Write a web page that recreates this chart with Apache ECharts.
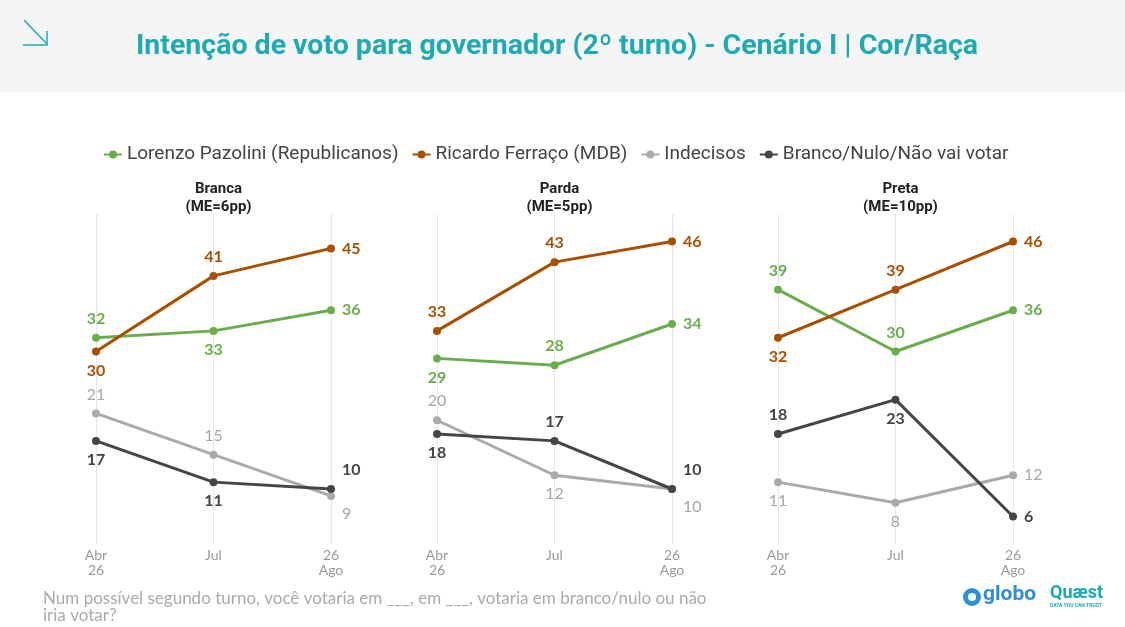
<!DOCTYPE html>
<html>
<head>
<meta charset="utf-8">
<script src="https://cdn.jsdelivr.net/npm/echarts@6/dist/echarts.min.js"></script>
<style>
  html, body { margin: 0; padding: 0; background: #fff; }
  #chart { width: 1125px; height: 627px; }
</style>
</head>
<body>
<div id="chart"></div>
<script>
// dados
const categories = ['Abr\n26', 'Jul', '26\nAgo'];
const panelTitles = ['Branca\n(ME=6pp)', 'Parda\n(ME=5pp)', 'Preta\n(ME=10pp)'];
const seriesNames = ['Lorenzo Pazolini (Republicanos)', 'Ricardo Ferraço (MDB)', 'Indecisos', 'Branco/Nulo/Não vai votar'];
const pazolini = [[32, 33, 36], [29, 28, 34], [39, 30, 36]];
const ferraco = [[30, 41, 45], [33, 43, 46], [32, 39, 46]];
const indecisos = [[21, 15, 9], [20, 12, 10], [11, 8, 12]];
const brancoNulo = [[17, 11, 10], [18, 17, 10], [18, 23, 6]];

const allValues = [pazolini, ferraco, indecisos, brancoNulo];
const colors = ['#6aad4e', '#a84f00', '#aaaaaa', '#454545'];

// onde fica cada rótulo (por painel / ponto)
const labelPos = [
  [['top', 'bottom', 'right'], ['bottom', 'top', 'right'], ['top', 'top', 'right']],
  [['bottom', 'top', 'right'], ['top', 'top', 'right'], ['bottom', 'top', 'right']],
  [['top', 'top', 'rb'], ['top', 'bottom', 'rb'], ['bottom', 'bottom', 'right']],
  [['bottom', 'bottom', 'ra'], ['bottom', 'top', 'ra'], ['top', 'bottom', 'right']]
];

const gridX = [[96, 331], [437, 672], [778, 1013]];
const chart = echarts.init(document.getElementById('chart'));

const grids = [], xAxes = [], yAxes = [], series = [], titles = [];
gridX.forEach(function (g, p) {
  grids.push({ left: g[0], width: g[1] - g[0], top: 214, bottom: 83 });
  xAxes.push({
    type: 'category', gridIndex: p, data: categories, boundaryGap: false,
    axisLine: { show: false }, axisTick: { show: false },
    splitLine: { show: true, lineStyle: { color: '#e6e6e6', width: 1 } },
    axisLabel: { color: '#9a9a9a', fontSize: 14, lineHeight: 15, fontFamily: 'Lato', margin: 4 }
  });
  yAxes.push({ type: 'value', gridIndex: p, min: 2, max: 50, show: false });
  titles.push({
    text: panelTitles[p], left: (g[0] + g[1]) / 2, top: 175, textAlign: 'center',
    textStyle: { fontSize: 15, fontWeight: 'bold', color: '#222', lineHeight: 18, fontFamily: 'Roboto' }
  });
  allValues.forEach(function (vals, s) {
    series.push({
      name: seriesNames[s], type: 'line', xAxisIndex: p, yAxisIndex: p,
      symbol: 'circle', symbolSize: 8,
      lineStyle: { color: colors[s], width: 3 },
      itemStyle: { color: colors[s] },
      z: s === 2 ? 2 : 3,
      data: vals[p].map(function (v, i) {
        const pos = labelPos[s][p][i];
        const label = { position: pos === 'rb' || pos === 'ra' ? 'right' : pos };
        if (pos === 'rb') label.offset = [0, 18];
        if (pos === 'ra') label.offset = [0, -19];
        return { value: v, label: label };
      }),
      label: {
        show: true, distance: 7, fontSize: 16, fontFamily: 'Lato',
        fontWeight: s === 2 ? 'normal' : 'bold', color: s === 2 ? '#a6a6a6' : colors[s]
      }
    });
  });
});

chart.setOption({
  backgroundColor: '#fff',
  animation: false,
  title: [{
    text: 'Intenção de voto para governador (2º turno) - Cenário I | Cor/Raça',
    left: 552, top: 27, textAlign: 'center',
    textStyle: { fontSize: 28.5, fontWeight: 'bold', color: '#1eaab3', fontFamily: 'Roboto' }
  }].concat(titles, [{
    text: 'Num possível segundo turno, você votaria em ___, em ___, votaria em branco/nulo ou não\niria votar?',
    left: 38, top: 585,
    textStyle: { fontSize: 17, fontWeight: 'normal', color: '#aaaaaa', lineHeight: 17, fontFamily: 'Lato' }
  }]),
  legend: {
    top: 140, left: 98, itemWidth: 18, itemHeight: 10, itemGap: 13,
    data: seriesNames,
    textStyle: { fontSize: 19, color: '#444', fontFamily: 'Roboto', padding: [0, 0, 0, 0] }
  },
  grid: grids, xAxis: xAxes, yAxis: yAxes, series: series,
  graphic: [
    { type: 'rect', shape: { x: 0, y: 0, width: 1125, height: 92 }, style: { fill: '#f5f5f5' }, z: -10 },
    { type: 'line', shape: { x1: 24, y1: 20, x2: 47, y2: 44 }, style: { stroke: '#1eaab3', lineWidth: 1.5 } },
    { type: 'polyline', shape: { points: [[47, 31], [47, 45], [23, 45]] }, style: { stroke: '#1eaab3', lineWidth: 1.5, fill: null } },
    { type: 'circle', shape: { cx: 972, cy: 597, r: 9 }, style: { fill: '#2d8fd8' } },
    { type: 'circle', shape: { cx: 972, cy: 597, r: 4 }, style: { fill: '#fff' } },
    { type: 'text', left: 983, top: 584, style: { text: 'globo', fill: '#2d8fd8', font: 'bold 21px Roboto' } },
    { type: 'text', left: 1050, top: 584, style: { text: 'Quæst', fill: '#1aa9b2', font: 'bold 18px Roboto' } },
    { type: 'text', left: 1050, top: 603, style: { text: 'DATA YOU CAN TRUST', fill: '#1aa9b2', font: 'bold 5px Roboto' } }
  ]
});
</script>
</body>
</html>
